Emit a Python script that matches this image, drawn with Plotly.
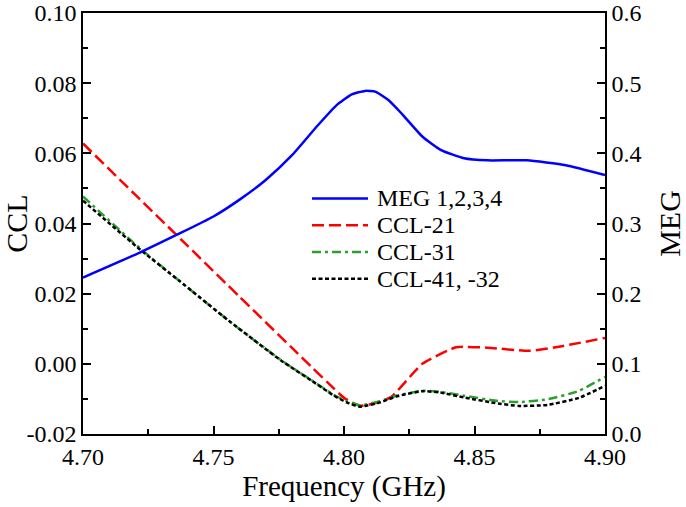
import plotly.graph_objects as go

# MEG (right axis)
freq_meg = [4.700, 4.722, 4.736, 4.750, 4.760, 4.770, 4.780, 4.790, 4.797, 4.803, 4.808, 4.812, 4.817, 4.822, 4.830, 4.837, 4.846, 4.855, 4.870, 4.885, 4.900]
meg = [0.223, 0.259, 0.284, 0.310, 0.334, 0.362, 0.397, 0.440, 0.468, 0.484, 0.489, 0.488, 0.476, 0.457, 0.424, 0.405, 0.393, 0.390, 0.390, 0.383, 0.369]

# CCL (left axis)
freq_ccl21 = [4.700, 4.720, 4.740, 4.760, 4.780, 4.788, 4.794, 4.800, 4.806, 4.811, 4.818, 4.830, 4.843, 4.855, 4.871, 4.884, 4.900]
ccl21 = [0.0628, 0.0482, 0.0337, 0.0191, 0.0046, -0.0012, -0.0055, -0.0097, -0.0119, -0.0114, -0.0095, 0.0000, 0.0047, 0.0046, 0.0037, 0.0051, 0.0074]

freq_ccl = [4.700, 4.722, 4.737, 4.756, 4.776, 4.788, 4.796, 4.801, 4.806, 4.814, 4.820, 4.830, 4.837, 4.846, 4.859, 4.867, 4.878, 4.890, 4.900]
ccl31 = [0.0477, 0.0328, 0.0236, 0.0122, 0.0010, -0.0049, -0.0088, -0.0106, -0.0118, -0.0106, -0.0091, -0.0077, -0.0080, -0.0091, -0.0106, -0.0109, -0.0101, -0.0077, -0.0037]
ccl41 = [0.0465, 0.0325, 0.0236, 0.0122, 0.0009, -0.0050, -0.0090, -0.0110, -0.0122, -0.0110, -0.0093, -0.0078, -0.0082, -0.0096, -0.0113, -0.0120, -0.0117, -0.0097, -0.0063]

series_names = ["MEG 1,2,3,4", "CCL-21", "CCL-31", "CCL-41, -32"]
series_colors = ["#0000ff", "#ff0000", "#2ca02c", "#000000"]
series_dashes = ["solid", "12px,5px", "9px,4px,3px,4px", "4px,2.5px"]

x_ticks = [4.70, 4.75, 4.80, 4.85, 4.90]
x_labels = ["4.70", "4.75", "4.80", "4.85", "4.90"]
y_ticks = [-0.02, 0.00, 0.02, 0.04, 0.06, 0.08, 0.10]
y_labels = ["-0.02", "0.00", "0.02", "0.04", "0.06", "0.08", "0.10"]
y2_ticks = [0.0, 0.1, 0.2, 0.3, 0.4, 0.5, 0.6]
y2_labels = ["0.0", "0.1", "0.2", "0.3", "0.4", "0.5", "0.6"]

FONT = "Liberation Serif"

fig = go.Figure()
series = [(freq_meg, meg, "y2"), (freq_ccl21, ccl21, "y"), (freq_ccl, ccl31, "y"), (freq_ccl, ccl41, "y")]
for (xs, ys, ax), name, col, dash in zip(series, series_names, series_colors, series_dashes):
    fig.add_trace(go.Scatter(x=xs, y=ys, name=name, yaxis=ax, mode="lines", showlegend=False,
                             line=dict(color=col, width=2.5, dash=dash, shape="spline", smoothing=0.5)))

# hand-built legend (paper coordinates) to match the compact row spacing
leg_x0, leg_x1, leg_tx = 0.4387, 0.5460, 0.5594
leg_top, leg_step = 0.5595, 0.0636
shapes, annotations = [], []
for i, (name, col, dash) in enumerate(zip(series_names, series_colors, series_dashes)):
    yy = leg_top - i * leg_step
    shapes.append(dict(type="line", xref="paper", yref="paper", x0=leg_x0, x1=leg_x1, y0=yy, y1=yy,
                       line=dict(color=col, width=2.5, dash=dash)))
    annotations.append(dict(xref="paper", yref="paper", x=leg_tx, y=yy, text=name, showarrow=False,
                            xanchor="left", yanchor="middle",
                            font=dict(family=FONT, size=24, color="black")))

axis_common = dict(showline=True, linecolor="black", linewidth=1.5, ticks="inside",
                   tickcolor="black", ticklen=8, tickwidth=1.5, showgrid=False, zeroline=False,
                   automargin=False,
                   tickfont=dict(family=FONT, size=24, color="black"))

fig.update_layout(
    width=686, height=507,
    margin=dict(l=83, r=81, t=13, b=73),
    paper_bgcolor="white", plot_bgcolor="white",
    font=dict(family=FONT, color="black"),
    showlegend=False,
    shapes=shapes,
    annotations=annotations,
    xaxis=dict(range=[4.70, 4.90], tickvals=x_ticks, ticktext=x_labels, mirror=True,
               minor=dict(ticks="inside", ticklen=5, tickwidth=1.5, tickcolor="black", dtick=0.025),
               title=dict(text="Frequency (GHz)", font=dict(family=FONT, size=29, color="black"), standoff=4),
               **axis_common),
    yaxis=dict(range=[-0.02, 0.10], tickvals=y_ticks, ticktext=y_labels,
               minor=dict(ticks="inside", ticklen=5, tickwidth=1.5, tickcolor="black", dtick=0.01),
               title=dict(text="CCL", font=dict(family=FONT, size=30, color="black"), standoff=11),
               **axis_common),
    yaxis2=dict(range=[0.0, 0.6], tickvals=y2_ticks, ticktext=y2_labels, overlaying="y", side="right",
                minor=dict(ticks="inside", ticklen=5, tickwidth=1.5, tickcolor="black", dtick=0.05),
                title=dict(text="MEG", font=dict(family=FONT, size=30, color="black"), standoff=19),
                **axis_common),
)

fig.write_html("out.html")
